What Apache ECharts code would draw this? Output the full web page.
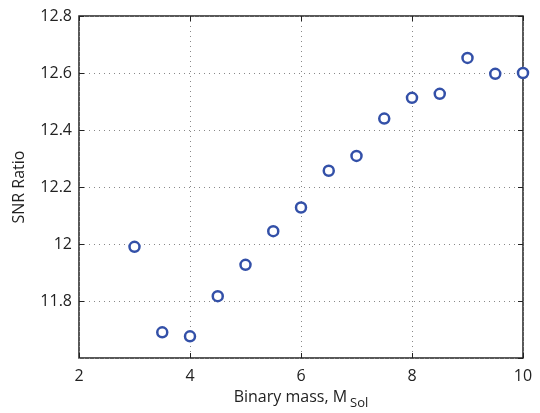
<!DOCTYPE html>
<html>
<head>
<meta charset="utf-8">
<script src="https://cdn.jsdelivr.net/npm/echarts@6/dist/echarts.min.js"></script>
<style>
  html, body { margin: 0; padding: 0; background: #fff; }
  #chart { width: 540px; height: 413px; }
</style>
</head>
<body>
<div id="chart"></div>
<script>
const binaryMass = [3, 3.5, 4, 4.5, 5, 5.5, 6, 6.5, 7, 7.5, 8, 8.5, 9, 9.5, 10];
const snrRatio = [11.99, 11.69, 11.676, 11.817, 11.927, 12.045, 12.128, 12.257, 12.309, 12.44, 12.513, 12.527, 12.653, 12.597, 12.6];

const fontFamily = '"Open Sans", sans-serif';
const gridLine = { show: true, lineStyle: { color: '#888', type: [1, 4], width: 1 } };

const chart = echarts.init(document.getElementById('chart'));

chart.setOption({
  backgroundColor: '#fff',
  animation: false,
  grid: {
    left: 79, right: 17, top: 16, bottom: 55,
    outerBoundsMode: 'none', containLabel: false,
    show: true, borderColor: '#222', borderWidth: 1.5, backgroundColor: 'transparent',
  },
  xAxis: [
    {
      type: 'value', min: 2, max: 10, interval: 2,
      axisLine: { show: false },
      axisTick: { show: true, inside: true, length: 5, lineStyle: { color: '#222' } },
      axisLabel: { color: '#222', fontSize: 16, fontFamily, margin: 10 },
      splitLine: gridLine,
      name: '{m|Binary mass, M}{s|Sol}',
      nameLocation: 'middle',
      nameGap: 27,
      nameTextStyle: {
        rich: {
          m: { fontSize: 16, fontFamily, color: '#222' },
          s: { fontSize: 13, fontFamily, color: '#222', padding: [12, 0, 0, 3] },
        },
      },
    },
    {
      type: 'value', min: 2, max: 10, interval: 2, position: 'top',
      axisLine: { show: false },
      axisTick: { show: true, inside: true, length: 5, lineStyle: { color: '#222' } },
      axisLabel: { show: false },
      splitLine: { show: false },
    },
  ],
  yAxis: [
    {
      type: 'value', min: 11.6, max: 12.8, interval: 0.2,
      axisLine: { show: false },
      axisTick: { show: true, inside: true, length: 5, lineStyle: { color: '#222' } },
      axisLabel: {
        color: '#222', fontSize: 16, fontFamily, margin: 7, showMinLabel: false,
        formatter: v => (v < 11.7 ? '' : (Math.round(v * 10) / 10).toString()),
      },
      splitLine: gridLine,
      name: 'SNR Ratio',
      nameLocation: 'middle',
      nameGap: 52,
      nameTextStyle: { fontSize: 16, fontFamily, color: '#222' },
    },
    {
      type: 'value', min: 11.6, max: 12.8, interval: 0.2, position: 'right',
      axisLine: { show: false },
      axisTick: { show: true, inside: true, length: 5, lineStyle: { color: '#222' } },
      axisLabel: { show: false },
      splitLine: { show: false },
    },
  ],
  series: [
    {
      type: 'scatter',
      data: binaryMass.map((m, i) => [m, snrRatio[i]]),
      symbol: 'circle',
      symbolSize: 10,
      itemStyle: { color: '#fff', borderColor: '#3350a8', borderWidth: 2.5, opacity: 1 },
      z: 5,
    },
  ],
});
</script>
</body>
</html>
